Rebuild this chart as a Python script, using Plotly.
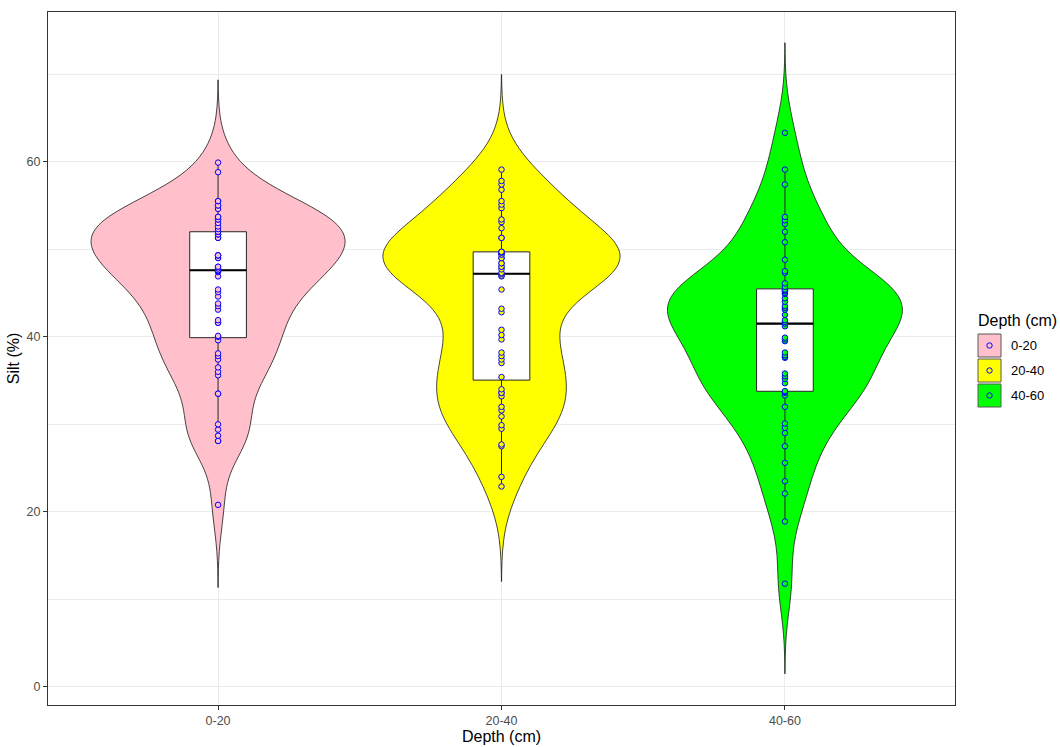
import numpy as np
import plotly.graph_objects as go

# Silt content (%) by soil depth class
depths = ["0-20", "20-40", "40-60"]
fills = ["#FFC0CB", "#FFFF00", "#00FF00"]

silt_0_20 = [20.8, 28.1, 28.1, 28.7, 29.4, 30.0, 33.5, 33.5, 35.6, 36.0, 36.5, 37.4, 37.8, 38.1, 39.6,
             40.0,
             40.1, 41.6, 41.6, 41.9, 43.1, 43.5, 43.8, 44.6, 45.1, 45.4, 46.9, 47.4, 47.5, 47.5,
             47.6,
             47.8, 48.0, 48.0, 49.0, 49.0, 49.3, 49.3, 49.3, 51.3, 51.3, 51.7, 51.7, 52.0, 52.0,
             52.0,
             52.0, 52.3, 52.6, 53.0, 53.4, 53.4, 53.7, 53.7, 54.6, 55.0, 55.0, 55.5, 55.5, 58.8, 59.9]

silt_20_40 = [22.9, 24.0, 27.5, 27.7, 29.5, 29.9, 30.9, 31.6, 32.0, 33.2, 33.6, 33.6, 34.0,
              35.4,
              37.0, 37.4, 37.8, 38.2, 39.7, 40.2, 40.8, 42.8, 43.2, 45.4, 46.9, 47.0,
              47.2,
              47.3, 47.7, 48.0, 48.0, 48.4, 48.4, 49.0, 49.0, 49.4, 49.4, 49.6, 49.7,
              49.7,
              49.7, 51.3, 51.3, 52.4, 53.1, 53.4, 54.7, 55.1, 55.5, 56.8, 57.4, 57.8, 59.1]

silt_40_60 = [11.8, 18.9, 22.1, 23.5, 25.6, 27.5, 29.0, 29.6, 30.1, 32.0, 33.3, 33.6, 33.7,
              33.8,
              34.7, 35.2, 35.5, 35.8, 37.6, 37.7, 37.9, 38.2, 39.5, 39.7, 39.9, 41.2,
              41.5,
              41.7, 41.9, 42.5, 43.1, 43.3, 43.5, 44.0, 44.4, 44.9, 45.0, 45.2, 45.3,
              45.4,
              45.7, 46.1, 47.3, 47.5, 48.8, 50.8, 52.0, 52.9, 53.3, 53.7, 57.4, 59.1, 63.3]

groups = [silt_0_20, silt_20_40, silt_40_60]
positions = [1, 2, 3]

# Kernel bandwidth and maximum violin width (equal-area scaling) per depth
bandwidths = [3.15, 3.62, 3.43]
violin_widths = [0.896, 0.836, 0.829]

fig = go.Figure()

# Violins (untrimmed: tails run 3 bandwidths past the data)
for pos, vals, fill, name, bw, vw in zip(positions, groups, fills, depths,
                                         bandwidths, violin_widths):
    fig.add_trace(go.Violin(
        x=[pos] * len(vals), y=vals, name=name,
        bandwidth=bw, spanmode="manual",
        span=[min(vals) - 3 * bw, max(vals) + 3 * bw],
        fillcolor=fill, opacity=1,
        line=dict(color="#1a1a1a", width=0.8),
        points=False, box_visible=False, meanline_visible=False,
        width=vw, scalegroup=name, scalemode="width",
        showlegend=False, hoverinfo="skip",
    ))

# Boxplots
for pos, vals in zip(positions, groups):
    fig.add_trace(go.Box(
        x=[pos] * len(vals), y=vals, width=0.2,
        fillcolor="white", line=dict(color="#262626", width=1),
        boxpoints="outliers", marker=dict(opacity=0),
        whiskerwidth=0, quartilemethod="linear",
        showlegend=False, hoverinfo="skip",
    ))

# Medians drawn heavier
for pos, vals in zip(positions, groups):
    med = float(np.quantile(vals, 0.5))
    fig.add_trace(go.Scatter(
        x=[pos - 0.1, pos + 0.1], y=[med, med], mode="lines",
        line=dict(color="black", width=2.2), showlegend=False, hoverinfo="skip",
    ))

# Observations
for pos, vals, fill in zip(positions, groups, fills):
    fig.add_trace(go.Scatter(
        x=[pos] * len(vals), y=vals, mode="markers",
        marker=dict(size=5.5, color=fill, line=dict(color="#0000FF", width=1)),
        showlegend=False,
    ))

# Legend drawn as keys (filled square + point) beside the panel
W, H = 1060, 747
L, R, T, B = 48, 105, 12, 42
pw, ph = W - L - R, H - T - B


def px_x(px):
    return (px - L) / pw


def px_y(py):
    return (H - B - py) / ph


shapes = []
annotations = [dict(
    x=px_x(976), y=px_y(320), xref="paper", yref="paper",
    xanchor="left", yanchor="middle", showarrow=False,
    text="Depth (cm)", font=dict(size=16, color="black"),
)]
for i, (fill, name) in enumerate(zip(fills, depths)):
    top = 334 + 25 * i
    cy = top + 11.5
    shapes.append(dict(
        type="rect", xref="paper", yref="paper", layer="above",
        x0=px_x(978), x1=px_x(1001), y0=px_y(top), y1=px_y(top + 23),
        fillcolor=fill, line=dict(color="#595959", width=1),
    ))
    shapes.append(dict(
        type="circle", xref="paper", yref="paper", layer="above",
        x0=px_x(986.8), x1=px_x(992.2), y0=px_y(cy - 2.7), y1=px_y(cy + 2.7),
        fillcolor=fill, line=dict(color="#0000FF", width=1),
    ))
    annotations.append(dict(
        x=px_x(1009), y=px_y(cy), xref="paper", yref="paper",
        xanchor="left", yanchor="middle", showarrow=False,
        text=name, font=dict(size=13, color="black"),
    ))

axis_common = dict(
    showline=True, linecolor="#333333", linewidth=1, mirror=True,
    ticks="outside", ticklen=4, tickcolor="#333333", tickwidth=1,
    tickfont=dict(size=12.5, color="#4D4D4D"),
    showgrid=True, gridcolor="#EBEBEB", gridwidth=1, zeroline=False,
    automargin=False,
)

fig.update_layout(
    width=W, height=H,
    margin=dict(l=L, r=R, t=T, b=B, autoexpand=False),
    paper_bgcolor="white", plot_bgcolor="white",
    font=dict(family="Liberation Sans, Arial, sans-serif", color="black"),
    violinmode="overlay", boxmode="overlay",
    showlegend=False,
    xaxis=dict(
        range=[0.4, 3.6], tickmode="array", tickvals=positions, ticktext=depths,
        title=dict(text="Depth (cm)", font=dict(size=16), standoff=2),
        **axis_common,
    ),
    yaxis=dict(
        range=[-2.06, 77.1], tick0=0, dtick=20,
        minor=dict(dtick=10, showgrid=True, gridcolor="#EBEBEB", gridwidth=0.5, ticks=""),
        title=dict(text="Silt (%)", font=dict(size=16), standoff=2),
        **axis_common,
    ),
    shapes=shapes,
    annotations=annotations,
)

fig.write_html("out.html")
